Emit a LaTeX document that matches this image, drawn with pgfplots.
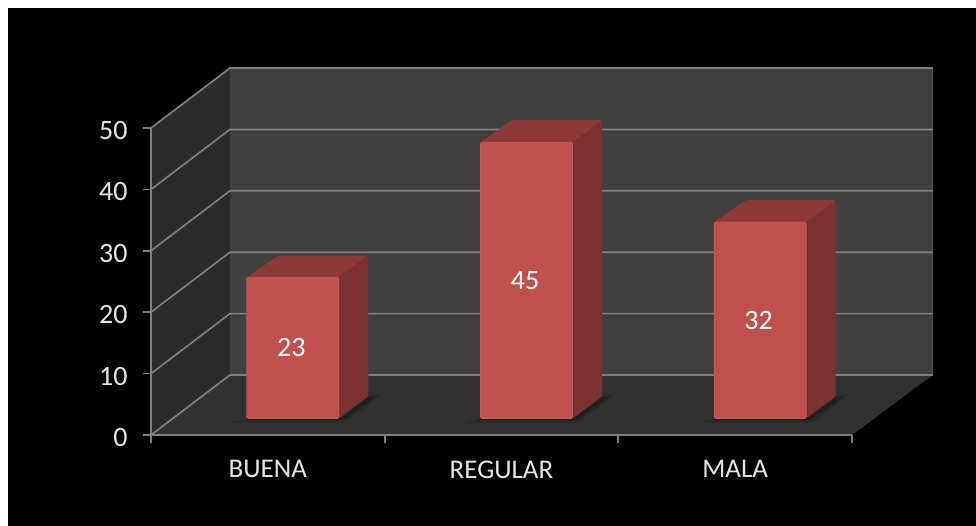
\documentclass[border=0pt]{standalone}
\usepackage{fontspec}
\setmainfont{Carlito}
\usepackage{pgfplots}
\usepackage{pgfplotstable}
\pgfplotsset{compat=1.18}
\definecolor{backwall}{HTML}{404040}
\definecolor{sidewall}{HTML}{2A2A2A}
\definecolor{floorcol}{HTML}{313131}
\definecolor{gridcol}{HTML}{808080}
\definecolor{walledge}{HTML}{555555}
\definecolor{barfront}{HTML}{C0504D}
\definecolor{baredge}{HTML}{C65A56}
\definecolor{bartop}{HTML}{8D3937}
\definecolor{barside}{HTML}{7A312F}
\definecolor{shadowin}{HTML}{202020}
\definecolor{shadowout}{HTML}{2A2A2A}
\definecolor{labelcol}{HTML}{E6E6E6}
% bar values, mid is where the label sits
\pgfplotstableread{
x v mid
0 23 11.5
1 45 22.5
2 32 16
}\bardata
\begin{document}
\begin{tikzpicture}[x=1pt,y=1pt]
\fill[white] (0,0) rectangle (976,526);
\fill[black] (8,0) rectangle (976,518);
\begin{axis}[
    at={(151pt,91pt)}, anchor=south west,
    scale only axis, width=701pt, height=307pt,
    xmin=-0.5, xmax=2.5, ymin=0, ymax=50,
    clip=false, axis on top,
    axis x line=bottom, axis y line=left,
    axis line style={draw=gridcol, line width=1.7pt, -},
    unbounded coords=jump,
    xtick={0,1,2}, xticklabels={BUENA,REGULAR,MALA},
    minor xtick={-0.5,0.5,1.5,2.5},
    ytick={0,10,20,30,40,50},
    tick align=outside,
    major tick length=8pt, minor tick length=8pt,
    ytick style={draw=gridcol, line width=1.7pt},
    xtick style={draw=none},
    minor x tick style={draw=gridcol, line width=1.7pt},
    xticklabel style={text=labelcol, font=\fontsize{27}{29}\selectfont, yshift=-14pt},
    yticklabel style={text=labelcol, font=\fontsize{28}{30}\selectfont, xshift=-12pt, yshift=-2.5pt},
    /pgf/number format/assume math mode=true,
]
% walls and floor
\addplot[fill=backwall, draw=none] coordinates {(-0.162,9.77) (2.846,9.77) (2.846,59.77) (-0.162,59.77)} -- cycle;
\addplot[fill=sidewall, draw=none] coordinates {(-0.5,0) (-0.162,9.77) (-0.162,59.77) (-0.5,50)} -- cycle;
\addplot[fill=floorcol, draw=none] coordinates {(-0.5,0) (2.5,0) (2.846,9.77) (-0.162,9.77)} -- cycle;
\addplot[draw=walledge, line width=1.2pt] coordinates {(2.846,9.77) (2.846,59.77)};
% gridlines
\addplot[draw=gridcol, line width=1.7pt] coordinates {
    (-0.5,0) (-0.162,9.77) (2.846,9.77) (nan,nan)
    (-0.5,10) (-0.162,19.77) (2.846,19.77) (nan,nan)
    (-0.5,20) (-0.162,29.77) (2.846,29.77) (nan,nan)
    (-0.5,30) (-0.162,39.77) (2.846,39.77) (nan,nan)
    (-0.5,40) (-0.162,49.77) (2.846,49.77) (nan,nan)
    (-0.5,50) (-0.162,59.77) (2.846,59.77)
};
% shadows on the floor, soft outer edge then darker core
\addplot[fill=shadowout, draw=none, shift={(25pt,16.5pt)}] coordinates {(-0.26,-0.7) (0.22,-0.7) (0.38,3.9) (0.32,3.9) (0.197,0) (-0.197,0)} -- cycle;
\addplot[fill=shadowout, draw=none, shift={(25pt,16.5pt)}] coordinates {(0.74,-0.7) (1.22,-0.7) (1.38,3.9) (1.32,3.9) (1.197,0) (0.803,0)} -- cycle;
\addplot[fill=shadowout, draw=none, shift={(25pt,16.5pt)}] coordinates {(1.74,-0.7) (2.22,-0.7) (2.38,3.9) (2.32,3.9) (2.197,0) (1.803,0)} -- cycle;
\addplot[fill=shadowin, draw=none, shift={(25pt,16.5pt)}] coordinates {(-0.2,-0.3) (0.21,-0.3) (0.355,3.5) (0.32,3.5) (0.197,0) (-0.197,0)} -- cycle;
\addplot[fill=shadowin, draw=none, shift={(25pt,16.5pt)}] coordinates {(0.8,-0.3) (1.21,-0.3) (1.355,3.5) (1.32,3.5) (1.197,0) (0.803,0)} -- cycle;
\addplot[fill=shadowin, draw=none, shift={(25pt,16.5pt)}] coordinates {(1.8,-0.3) (2.21,-0.3) (2.355,3.5) (2.32,3.5) (2.197,0) (1.803,0)} -- cycle;
% bar sides
\addplot[fill=barside, draw=none, rounded corners=1.5pt, shift={(25pt,16.5pt)}] coordinates {(0.197,0) (0.323,3.58) (0.323,26.58) (0.197,23)} -- cycle;
\addplot[fill=barside, draw=none, rounded corners=1.5pt, shift={(25pt,16.5pt)}] coordinates {(1.197,0) (1.323,3.58) (1.323,48.58) (1.197,45)} -- cycle;
\addplot[fill=barside, draw=none, rounded corners=1.5pt, shift={(25pt,16.5pt)}] coordinates {(2.197,0) (2.323,3.58) (2.323,35.58) (2.197,32)} -- cycle;
% bar tops
\addplot[fill=bartop, draw=none, rounded corners=1.5pt, shift={(25pt,16.5pt)}] coordinates {(-0.197,23) (0.197,23) (0.323,26.58) (-0.06,26.58)} -- cycle;
\addplot[fill=bartop, draw=none, rounded corners=1.5pt, shift={(25pt,16.5pt)}] coordinates {(0.803,45) (1.197,45) (1.323,48.58) (0.94,48.58)} -- cycle;
\addplot[fill=bartop, draw=none, rounded corners=1.5pt, shift={(25pt,16.5pt)}] coordinates {(1.803,32) (2.197,32) (2.323,35.58) (1.94,35.58)} -- cycle;
% bar fronts
\addplot[ybar, bar width=92pt, bar shift=0pt, fill=barfront, draw=baredge, line width=0.8pt, rounded corners=1.5pt, shift={(25pt,16.5pt)}] table[x=x, y=v] {\bardata};
% value labels
\addplot[only marks, mark=none, shift={(23.5pt,16.5pt)},
    point meta=explicit,
    nodes near coords,
    every node near coord/.style={anchor=center, inner sep=0pt, text=white, font=\fontsize{28}{30}\selectfont, /pgf/number format/assume math mode=true},
] table[x=x, y=mid, meta=v] {\bardata};
\end{axis}
\end{tikzpicture}
\end{document}
